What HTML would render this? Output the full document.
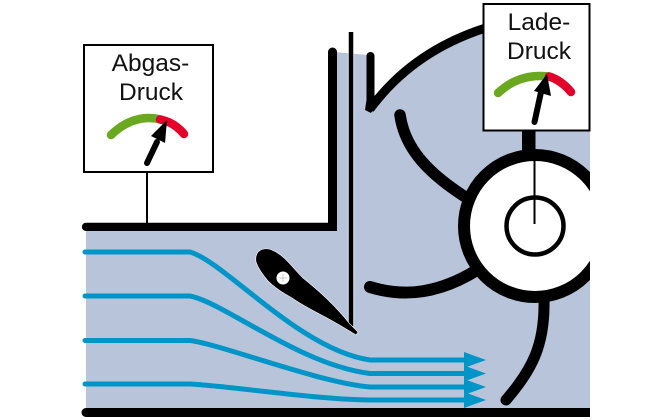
<!DOCTYPE html>
<html><head><meta charset="utf-8"><style>
html,body{margin:0;padding:0;background:#fff;width:660px;height:420px;overflow:hidden}
svg{display:block}
text{font-family:"Liberation Sans",sans-serif;font-size:24.5px;fill:#111;text-anchor:middle}
</style></head><body>
<svg width="660" height="420" viewBox="0 0 660 420" xmlns="http://www.w3.org/2000/svg">
<defs><clipPath id="c"><rect x="0" y="0" width="590" height="420"/></clipPath></defs>
<path d="M86 228H334V52L368 55V110Q410 50 483 32V130H590V410H86Z" fill="#b8c4d9"/>
<g fill="none" stroke-linecap="round">
<g stroke="#0095c8" stroke-width="5">
<path d="M85 252H190C225 262 300 350 370 360H470"/>
<path d="M85 296H190C225 303 300 365 370 373.500H470"/>
<path d="M85 340.500H190C220 344 320 383 370 387H470"/>
<path d="M85 384H190C230 386 310 399 370 400H470"/>
</g>
<g fill="#0095c8" stroke="none">
<path d="M464 352L486 360L464 368Z"/><path d="M464 365.500L486 373.500L464 381.500Z"/>
<path d="M464 379L486 387L464 395Z"/><path d="M464 392L486 400L464 408Z"/>
</g>
<g stroke="#000" clip-path="url(#c)">
<path d="M400 115C405 150 430 175 470 200" stroke-width="11.500"/>
<path d="M370 287C405 298 440 293 477 270" stroke-width="12"/>
<path d="M506 400C532 370 545 345 544 300" stroke-width="11"/>
<rect x="522" y="128" width="11.500" height="24" fill="#000" stroke="none"/>
<circle cx="535" cy="226" r="71" fill="#fff" stroke-width="12"/>
<circle cx="535" cy="226" r="28.500" stroke-width="4.500"/>
<path d="M534.500 130V224" stroke-width="2" stroke-linecap="butt"/>
</g>
<path d="M370.500 56V108" stroke="#000" stroke-width="8"/>
<path d="M370 109Q412 52 484 28.500" stroke="#000" stroke-width="9" stroke-linecap="butt"/>
<path d="M366.500 100L365 110L371 113L378 100Z" fill="#000"/>
<path d="M328 52A4.500 4.500 0 0 1 337 52V231H328Z" fill="#000"/>
<path d="M86 222.700H337V231H86A4.150 4.150 0 0 1 86 222.700Z" fill="#000"/>
<path d="M86 408H590V417H86A4.500 4.500 0 0 1 86 408Z" fill="#000"/>
<path d="M351 32V326" stroke="#fff" stroke-width="6.500" stroke-linecap="butt" opacity=".55"/>
<path d="M351 32V326" stroke="#000" stroke-width="4.500" stroke-linecap="butt"/>
<path d="M147 172V224" stroke="#000" stroke-width="2" stroke-linecap="butt"/>
</g>
<path d="M356 335L358 332L349 323C335 305 318 290 303 278C295 270 290 263 283 257C275 250 268 248 264 249C257 250 255 256 256 262C258 268 262 274 268 281C276 289 285 294 292 298C305 307 318 313 327 318C338 324 348 330 356 335Z" fill="#000" stroke="#fff" stroke-width=".6"/>
<circle cx="283" cy="278" r="6.500" fill="#fff"/>
<path d="M279 278H287M283 274V282" stroke="#bbb" stroke-width=".7"/>
<rect x="84" y="45" width="129" height="127" fill="#fff" stroke="#000" stroke-width="2"/>
<rect x="483.500" y="4" width="106" height="126.500" fill="#fff" stroke="#000" stroke-width="2"/>
<text x="150.500" y="71">Abgas-</text><text x="151" y="100">Druck</text>
<text x="539" y="30">Lade-</text><text x="539" y="59">Druck</text>
<g fill="none" stroke-linecap="round" stroke-width="8.500">
<path d="M111 135Q134 113 161 119.500" stroke="#6aa820"/>
<path d="M160 119.500Q174 122 184 134" stroke="#e2002a"/>
<path d="M498 93Q519 73 549 76.500" stroke="#6aa820"/>
<path d="M549 76.500Q561 80 571 92" stroke="#e2002a"/>
<path d="M147 163L157 142" stroke="#000" stroke-width="6"/>
<path d="M534.500 122L541 92" stroke="#000" stroke-width="6"/>
</g>
<path d="M167 120L165 143L151 136Z" fill="#000"/>
<path d="M547 74L551 96L534 91Z" fill="#000"/>
</svg>
</body></html>
